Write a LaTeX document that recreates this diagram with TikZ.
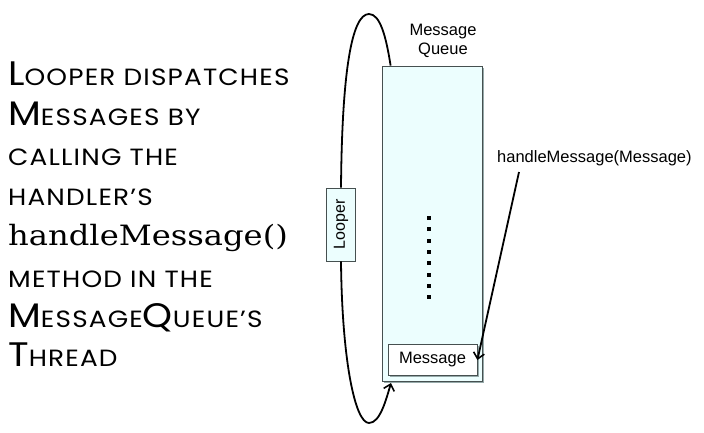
\documentclass[tikz,border=0pt]{standalone}
\usepackage{fontspec}
\setmainfont{Liberation Sans}
\newfontfamily\handfont[FakeStretch=1.12,LetterSpace=5]{Poppins}
\newfontfamily\slabfont[FakeStretch=1.15]{DejaVu Serif}
\usetikzlibrary{arrows.meta}
\definecolor{qfill}{RGB}{236,254,254}
\definecolor{qedge}{RGB}{70,80,80}
\definecolor{qshade}{RGB}{150,170,170}
\newcommand{\SC}[2]{{\fontsize{34}{34}\selectfont #1}{\fontsize{23.5}{23.5}\selectfont #2}}
\newcommand{\SCs}[1]{{\fontsize{23.5}{23.5}\selectfont #1}}
\begin{document}
\begin{tikzpicture}[x=1pt,y=-1pt,
  txt/.style={anchor=base west,inner sep=0pt,font=\handfont},
  lbl/.style={font=\fontsize{16.5}{18.5}\selectfont,inner sep=0pt,align=center},
  bevel/.style={draw=qedge,line width=0.8pt},
  link/.style={line width=1.8pt,black},
  tip/.style={-{Straight Barb[length=6pt,width=11pt,line width=1.6pt]}}]
\useasboundingbox (0,0) rectangle (704,432);
% left text
\node[txt] (t1) at (8,85) {\SC{L}{OOPER DISPATCHES}};
\node[txt] (t2) at (8,125) {\SC{M}{ESSAGES BY}};
\node[txt] (t3) at (8,165) {\SCs{CALLING THE}};
\node[txt] (t4) at (8,205) {\SCs{HANDLER’S}};
\node[anchor=base west,inner sep=0pt,font=\slabfont\fontsize{28}{28}\selectfont] (t5) at (8,245) {handleMessage()};
\node[txt] (t6) at (8,287) {\SCs{METHOD IN THE}};
\node[txt] (t7) at (8,327) {\SC{M}{ESSAGE}\SC{Q}{UEUE’S}};
\node[txt] (t8) at (8,366) {\SC{T}{HREAD}};
% queue
\fill[qshade] (384,68) rectangle (484,383);
\node[bevel,fill=qfill,minimum width=100pt,minimum height=315pt,inner sep=0pt] (queue) at (432,223.5) {};
\node[lbl] (qlabel) at (443,41) {Message\\Queue};
% dots
\foreach \k in {0,...,7} \fill (427,216+11.3*\k) rectangle (431,220+11.3*\k);
% message box
\fill[qshade] (390,346) rectangle (479,377);
\node[bevel,fill=white,minimum width=89pt,minimum height=31pt,inner sep=0pt,font=\fontsize{16.5}{18.5}\selectfont] (msg) at (432.5,359.5) {Message};
% looper
\node[bevel,fill=qfill,minimum width=73pt,minimum height=29pt,inner sep=0pt,rotate=90,font=\fontsize{16}{18}\selectfont] (looper) at (341,224.5) {Looper};
% loop curve
\coordinate (qtop) at ([xshift=9pt]queue.north west);
\coordinate (qbot) at (391,383);
\draw[link] (qtop) .. controls (386,36) and (380,14) .. (369,14)
   .. controls (352,14) and (342,70) .. (looper.east);
\draw[link,tip] (looper.west) .. controls (342,360) and (355,423) .. (369,423)
   .. controls (380,423) and (386,400) .. (qbot);
% handleMessage label & arrow
\node[lbl,anchor=west] (hm) at (497,158) {handleMessage(Message)};
\coordinate (hmstart) at (519,172);
\draw[link,tip] (hmstart) -- (msg.east |- 0,360);
\end{tikzpicture}
\end{document}
